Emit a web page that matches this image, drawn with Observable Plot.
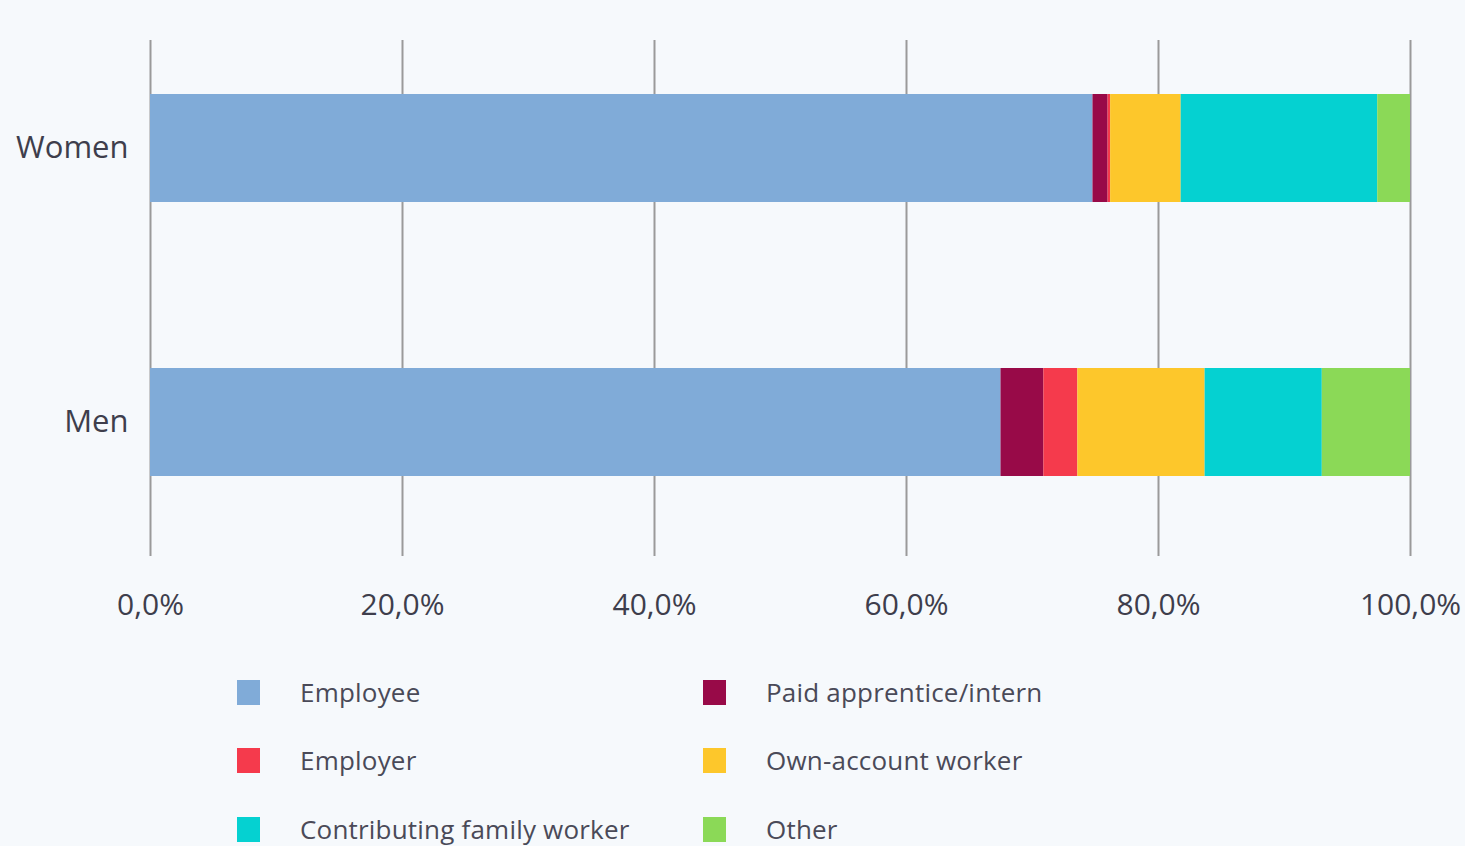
<!DOCTYPE html>
<html><head><meta charset="utf-8">
<script src="https://cdn.jsdelivr.net/npm/d3@7"></script>
<script src="https://cdn.jsdelivr.net/npm/@observablehq/plot@0.6"></script>
<style>
html,body{margin:0;padding:0;background:#f6f9fc;}
body{width:1465px;height:846px;overflow:hidden;font-family:"Open Sans",sans-serif;}
#chart svg{display:block;}
#legend{position:relative;height:200px;}
.item{position:absolute;display:flex;align-items:center;height:30px;font-size:26px;color:#4a4a58;letter-spacing:0.2px;}
.sw{width:23px;height:25px;margin-right:40px;}
</style></head><body>
<div id="chart"></div>
<div id="legend"></div>
<script>
const groups = ["Women", "Men"];
const categories = ["Employee", "Paid apprentice/intern", "Employer", "Own-account worker", "Contributing family worker", "Other"];
const women = [74.8, 1.2, 0.2, 5.6, 15.6, 2.6];
const men = [67.5, 3.4, 2.7, 10.1, 9.3, 7.0];
const colors = ["#80abd8", "#980a48", "#f53a4c", "#fdc72b", "#05d1d1", "#8bd957"];
const xTicks = [0, 20, 40, 60, 80, 100];

const seriesByGroup = {Women: women, Men: men};
const data = [];
for (const g of groups) categories.forEach((c, i) => data.push({group: g, category: c, value: seriesByGroup[g][i]}));

const fmt = d => d.toFixed(1).replace(".", ",") + "%";

const chart = Plot.plot({
  width: 1465,
  height: 646,
  marginLeft: 150,
  marginRight: 55,
  marginTop: 40,
  marginBottom: 90,
  style: {background: "transparent", fontFamily: "Open Sans, sans-serif", color: "#3e3e4c"},
  x: {domain: [0, 100], label: null},
  y: {domain: groups, range: [66.6, 503.4], paddingInner: 0.606, paddingOuter: 0.1, label: null},
  color: {domain: categories, range: colors},
  marks: [
    Plot.ruleX(xTicks, {stroke: "#9a9a9a", strokeWidth: 2}),
    Plot.barX(data, Plot.stackX({x: "value", y: "group", fill: "category"})),
    Plot.axisX({ticks: xTicks, tickFormat: fmt, tickSize: 0, tickPadding: 37, fontSize: 30, label: null}),
    Plot.axisY({tickSize: 0, tickPadding: 22, fontSize: 31, label: null})
  ]
});
document.getElementById("chart").appendChild(chart);

const legend = document.getElementById("legend");
const cols = [237, 703];
const rowsY = [31, 99, 168];
categories.forEach((c, i) => {
  const el = document.createElement("div");
  el.className = "item";
  el.style.left = cols[i % 2] + "px";
  el.style.top = rowsY[Math.floor(i / 2)] + "px";
  el.innerHTML = `<span class="sw" style="background:${colors[i]}"></span><span>${c}</span>`;
  legend.appendChild(el);
});
</script>
</body></html>
